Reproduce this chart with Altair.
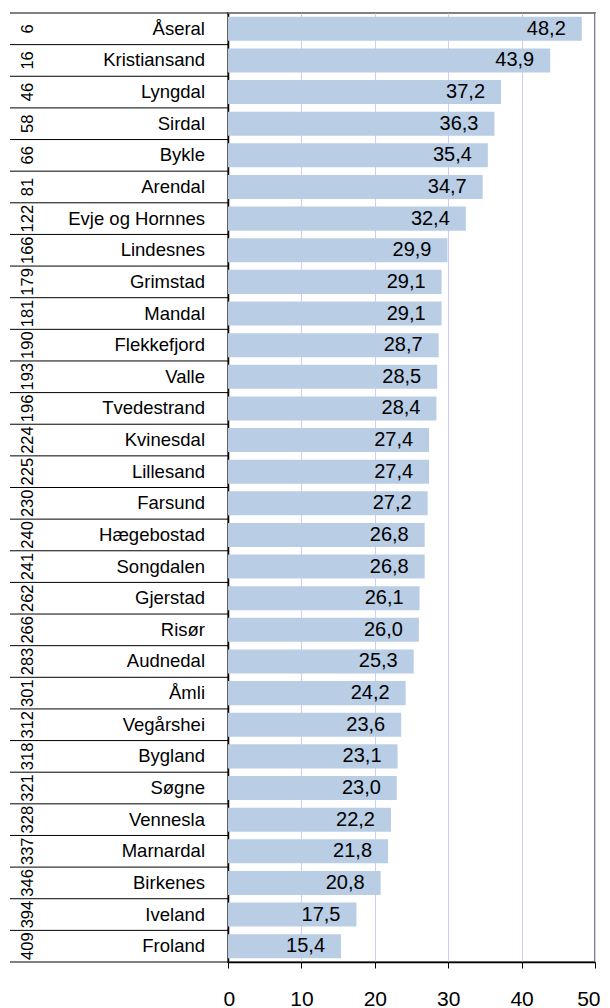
import altair as alt
import pandas as pd

names = ["Åseral", "Kristiansand", "Lyngdal", "Sirdal", "Bykle", "Arendal",
         "Evje og Hornnes", "Lindesnes", "Grimstad", "Mandal", "Flekkefjord",
         "Valle", "Tvedestrand", "Kvinesdal", "Lillesand", "Farsund",
         "Hægebostad", "Songdalen", "Gjerstad", "Risør", "Audnedal", "Åmli",
         "Vegårshei", "Bygland", "Søgne", "Vennesla", "Marnardal", "Birkenes",
         "Iveland", "Froland"]
values = [48.2, 43.9, 37.2, 36.3, 35.4, 34.7, 32.4, 29.9, 29.1, 29.1, 28.7,
          28.5, 28.4, 27.4, 27.4, 27.2, 26.8, 26.8, 26.1, 26.0, 25.3, 24.2,
          23.6, 23.1, 23.0, 22.2, 21.8, 20.8, 17.5, 15.4]
ranks = [6, 16, 46, 58, 66, 81, 122, 166, 179, 181, 190, 193, 196, 224, 225,
         230, 240, 241, 262, 266, 283, 301, 312, 318, 321, 328, 337, 346, 394,
         409]
x_ticks = [0, 10, 20, 30, 40, 50]

df = pd.DataFrame({
    "name": names,
    "value": values,
    "rank": [str(r) for r in ranks],
    "label": [f"{v:.1f}".replace(".", ",") for v in values],
})
bounds = pd.DataFrame({"b": list(range(len(names) + 1))})

W, H = 367, 949
FONT = "Liberation Sans"

yscale = alt.Scale(paddingInner=0.24, paddingOuter=0.12)
xscale = alt.Scale(domain=[0, 50], nice=False)

bars = alt.Chart(df).mark_bar(color="#b9cde5").encode(
    x=alt.X("value:Q", scale=xscale, title=None,
            axis=alt.Axis(values=x_ticks, grid=True, gridColor="#ccccff",
                          gridWidth=1, domainColor="black", domainWidth=1.5,
                          tickColor="black", tickSize=6, labelFontSize=21,
                          labelFont=FONT, labelColor="black", labelPadding=20,
                          labelFlush=True, labelFlushOffset=5)),
    y=alt.Y("name:N", sort=None, title=None, scale=yscale,
            axis=alt.Axis(labels=False, ticks=False, domainColor="black",
                          domainWidth=1.5, grid=False)),
)

vals = alt.Chart(df).mark_text(align="right", baseline="middle", dx=-16,
                               fontSize=20, font=FONT, color="black").encode(
    x=alt.X("value:Q", scale=xscale),
    y=alt.Y("name:N", sort=None, scale=yscale),
    text="label:N",
)

name_text = alt.Chart(df).mark_text(align="right", baseline="middle",
                                    fontSize=18.5, font=FONT,
                                    color="black").encode(
    x=alt.value(-23),
    y=alt.Y("name:N", sort=None, scale=yscale),
    text="name:N",
)

rank_text = alt.Chart(df).mark_text(align="center", baseline="middle",
                                    angle=270, fontSize=16.5, font=FONT,
                                    color="black").encode(
    x=alt.value(-200),
    y=alt.Y("name:N", sort=None, scale=yscale),
    text="rank:N",
)

lines = alt.Chart(bounds).mark_rule(color="black", strokeWidth=1).encode(
    x=alt.value(-218),
    x2=alt.value(0),
    y=alt.Y("b:Q", scale=alt.Scale(domain=[0, len(names)], nice=False),
            axis=None),
)

inner = alt.layer(bars, vals, name_text, rank_text)

chart = alt.layer(lines, inner).resolve_scale(
    y="independent"
).properties(
    width=W, height=H,
    autosize=alt.AutoSizeParams(type="none"),
    padding={"left": 220, "top": 5, "right": 7, "bottom": 46},
).configure_view(
    stroke="#808080", strokeWidth=2
)

chart.save("out.html", embed_options={"renderer": "svg", "actions": False})
